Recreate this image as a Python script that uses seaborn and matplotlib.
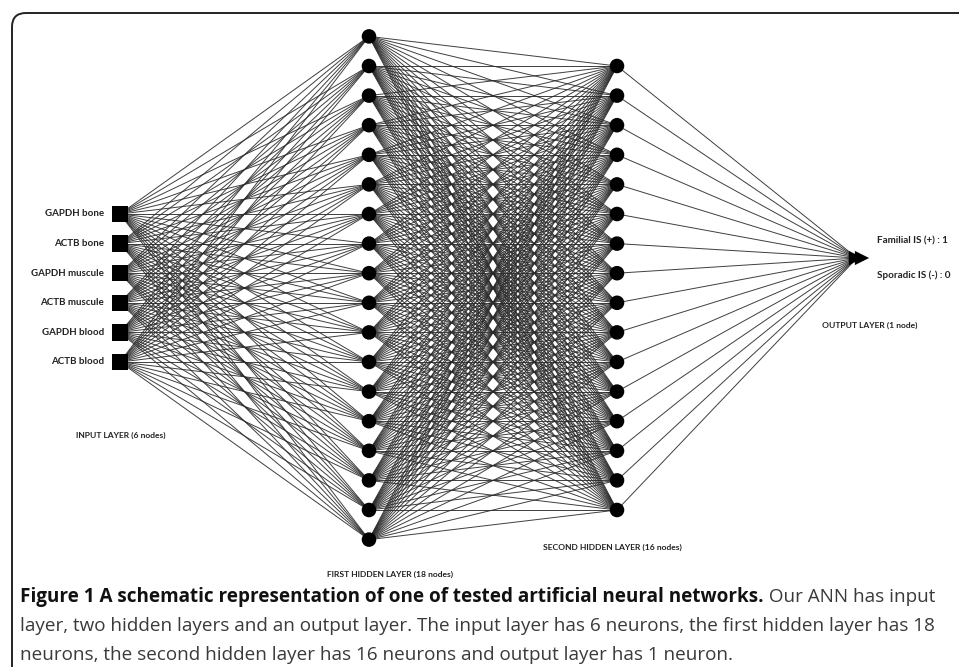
import matplotlib
matplotlib.use("Agg")
import numpy as np
import pandas as pd
import seaborn as sns
import matplotlib.pyplot as plt
from matplotlib.collections import LineCollection
from matplotlib.patches import FancyBboxPatch
from matplotlib import font_manager

# ---------------- data ----------------
layer_names = ["input", "hidden1", "hidden2", "output"]
layer_sizes = [6, 18, 16, 1]
input_labels = ["GAPDH bone", "ACTB bone", "GAPDH muscule", "ACTB muscule",
                "GAPDH blood", "ACTB blood"]
output_labels = ["Familial IS (+) : 1", "Sporadic IS (-) : 0"]
layer_titles = ["INPUT LAYER (6 nodes)", "FIRST HIDDEN LAYER (18 nodes)",
                "SECOND HIDDEN LAYER (16 nodes)", "OUTPUT LAYER (1 node)"]
caption_bold = "Figure 1 A schematic representation of one of tested artificial neural networks."
caption_rest = [" Our ANN has input",
                "layer, two hidden layers and an output layer. The input layer has 6 neurons, the first hidden layer has 18",
                "neurons, the second hidden layer has 16 neurons and output layer has 1 neuron."]

# ---------------- layout ----------------
W, H = 959, 667
layer_x = [120, 369, 617, 857]
layer_cy = [288, 288, 288, 258]
spacing = 29.6

sns.set_theme(style="white")
plt.rcParams["font.family"] = ["Lato", "DejaVu Sans"]

installed = {f.name for f in font_manager.fontManager.ttflist}
cap_font = [f for f in ["Liberation Sans Narrow", "Open Sans"] if f in installed] + ["DejaVu Sans"]

fig = plt.figure(figsize=(W / 100, H / 100), dpi=100)
ax = fig.add_axes([0, 0, 1, 1])

rows = []
for name, n, x, cy in zip(layer_names, layer_sizes, layer_x, layer_cy):
    for i in range(n):
        rows.append({"layer": name, "idx": i, "x": x, "y": cy + (i - (n - 1) / 2) * spacing})
nodes = pd.DataFrame(rows)

# edges between consecutive layers
segs = []
for a, b in zip(layer_names[:-1], layer_names[1:]):
    A = nodes[nodes.layer == a]
    B = nodes[nodes.layer == b]
    for _, ra in A.iterrows():
        for _, rb in B.iterrows():
            segs.append([(ra.x, ra.y), (rb.x, rb.y)])
ax.add_collection(LineCollection(segs, colors="#2a2a2a", linewidths=0.7, alpha=0.9, zorder=1))

# nodes
inp = nodes[nodes.layer == "input"]
sns.scatterplot(data=inp, x="x", y="y", marker="s", s=140, color="black",
                edgecolor="none", ax=ax, zorder=3, legend=False)
hid = nodes[nodes.layer.isin(["hidden1", "hidden2"])]
sns.scatterplot(data=hid, x="x", y="y", marker="o", s=110, color="black",
                edgecolor="none", ax=ax, zorder=3, legend=False)
out = nodes[nodes.layer == "output"]
for dx in (-1, 5):
    sns.scatterplot(x=out.x + dx, y=out.y, marker=">", s=105, color="black",
                    edgecolor="none", ax=ax, zorder=3, legend=False)
ax.set_xlim(0, W)
ax.set_ylim(H, 0)
ax.set_xlabel("")
ax.set_ylabel("")
ax.axis("off")

# frame (top and left edges visible, rounded corner)
frame = FancyBboxPatch((12, 13), 1100, 800, boxstyle="round,pad=0,rounding_size=14",
                       fill=False, edgecolor="#222222", linewidth=1.4, zorder=0)
ax.add_patch(frame)

# labels
lab_kw = dict(fontweight="bold", color="#222222")
for (_, r), lab in zip(inp.iterrows(), input_labels):
    ax.text(104, r.y, lab, ha="right", va="center", fontsize=7, **lab_kw)
ax.text(877, 241, output_labels[0], ha="left", va="center", fontsize=7.1, **lab_kw)
ax.text(877, 275, output_labels[1], ha="left", va="center", fontsize=7.1, **lab_kw)
ax.text(76, 435, layer_titles[0], ha="left", va="center", fontsize=6.1, **lab_kw)
ax.text(390, 574, layer_titles[1], ha="center", va="center", fontsize=6.1, **lab_kw)
ax.text(682, 547, layer_titles[2], ha="right", va="center", fontsize=6.1, **lab_kw)
ax.text(822, 325, layer_titles[3], ha="left", va="center", fontsize=6.1, **lab_kw)

# caption
fs = 12
cap_y = [597, 626, 655]
t_bold = ax.text(20, cap_y[0], caption_bold, ha="left", va="center", fontsize=fs,
                 fontweight="bold", family=cap_font, color="#111111")
t_r0 = ax.text(0, cap_y[0], caption_rest[0], ha="left", va="center", fontsize=fs,
               family=cap_font, color="#3a3a3a")
fig.canvas.draw()
r = fig.canvas.get_renderer()
wb = t_bold.get_window_extent(r).width
w0 = t_r0.get_window_extent(r).width
scale = (932 - 20) / (wb + w0)
fs2 = min(fs * scale, 16)
t_bold.set_fontsize(fs2)
t_r0.set_fontsize(fs2)
fig.canvas.draw()
inv = ax.transData.inverted()
bb = t_bold.get_window_extent(r)
x_end = inv.transform((bb.x1, bb.y0))[0]
t_r0.set_x(x_end)
ax.text(20, cap_y[1], caption_rest[1], ha="left", va="center", fontsize=fs2,
        family=cap_font, color="#3a3a3a")
ax.text(20, cap_y[2], caption_rest[2], ha="left", va="center", fontsize=fs2,
        family=cap_font, color="#3a3a3a")

fig.savefig("out.png", dpi=100, facecolor="white")
